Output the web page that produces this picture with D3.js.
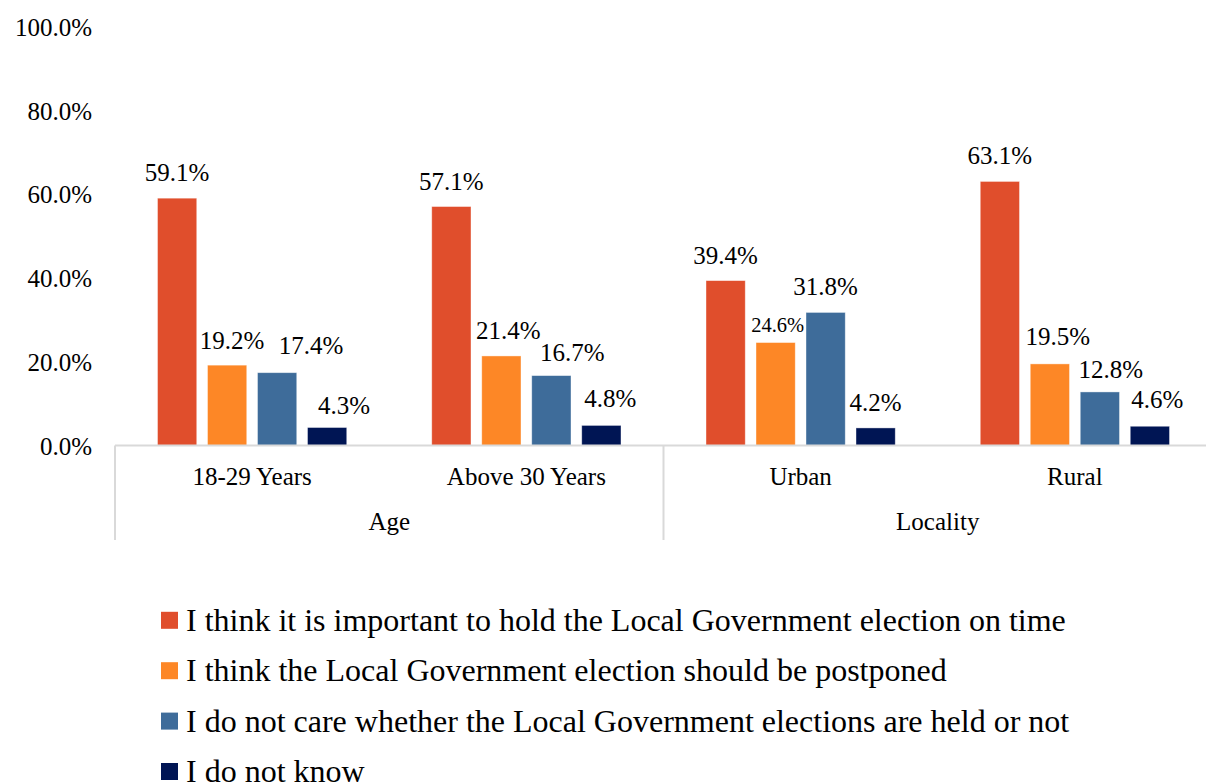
<!DOCTYPE html>
<html>
<head>
<meta charset="utf-8">
<script src="https://cdn.jsdelivr.net/npm/d3@7"></script>
<style>
  html, body { margin: 0; padding: 0; background: #ffffff; }
  svg { display: block; }
</style>
</head>
<body>
<svg id="chart" width="1206" height="782"></svg>
<script>
// Survey responses by demographic group (percent)
const groups = ["Age", "Locality"];
const categories = ["18-29 Years", "Above 30 Years", "Urban", "Rural"];
const categoryGroup = ["Age", "Age", "Locality", "Locality"];
const seriesNames = [
  "I think it is important to hold the Local Government election on time",
  "I think the Local Government election should be postponed",
  "I do not care whether the Local Government elections are held or not",
  "I do not know"
];
const seriesColors = ["#E04E2C", "#FD8726", "#3E6C9A", "#001554"];
const holdOnTime = [59.1, 57.1, 39.4, 63.1];
const postpone = [19.2, 21.4, 24.6, 19.5];
const dontCare = [17.4, 16.7, 31.8, 12.8];
const dontKnow = [4.3, 4.8, 4.2, 4.6];
const seriesValues = [holdOnTime, postpone, dontCare, dontKnow];
const yTicks = [0, 20, 40, 60, 80, 100];

// Hand-placed label nudges [dx, dy] per series (rows) and category (columns),
// keeping neighbouring value labels from colliding.
const labelNudge = [
  [[0, 0], [0, 0], [0, 0], [0, 0]],
  [[5, 1], [7, 0], [2, 6], [8, -2]],
  [[34, -2], [21, 2], [0, 0], [11, 3.5]],
  [[17, 3.5], [9, -1], [0, 0], [7.5, -1]]
];

const FONT = "Liberation Serif";

const svg = d3.select("#chart");

const plot = { left: 115, right: 1212, top: 27, bottom: 445.5 };

const y = d3.scaleLinear().domain([0, 100]).range([plot.bottom, plot.top]);
const x0 = d3.scaleBand().domain(categories).range([plot.left, plot.right]).padding(0);
const x1 = d3.scaleBand().domain(d3.range(seriesNames.length))
  .range([0, x0.bandwidth()]).paddingInner(0.215).paddingOuter(0.85);

// Y axis labels (no axis line, no ticks)
const yAxis = d3.axisLeft(y).tickValues(yTicks).tickSize(0).tickPadding(0)
  .tickFormat(d => d.toFixed(1) + "%");
const yG = svg.append("g").attr("transform", "translate(92,0)").call(yAxis);
yG.attr("font-family", null).attr("font-size", null);
yG.select(".domain").remove();
yG.selectAll("text")
  .attr("font-family", FONT)
  .attr("font-size", 25)
  .attr("fill", "#000")
  .attr("dy", "0.34em");

// Bars with value labels
const catG = svg.append("g").selectAll("g")
  .data(categories)
  .join("g")
  .attr("transform", d => `translate(${x0(d)},0)`);

catG.each(function(cat, ci) {
  const g = d3.select(this);
  seriesValues.forEach((vals, si) => {
    const v = vals[ci];
    g.append("rect")
      .attr("x", x1(si))
      .attr("y", y(v))
      .attr("width", x1.bandwidth())
      .attr("height", y(0) - y(v))
      .attr("fill", seriesColors[si])
      .attr("stroke", "#ffffff")
      .attr("stroke-opacity", 0.5)
      .attr("stroke-width", 0.8);
    const small = (ci === 2 && si === 1);
    const [dx, dy] = labelNudge[si][ci];
    g.append("text")
      .attr("x", x1(si) + x1.bandwidth() / 2 + dx)
      .attr("y", y(v) - 17 + dy)
      .attr("text-anchor", "middle")
      .attr("font-family", FONT)
      .attr("font-size", small ? 20.5 : 25)
      .attr("fill", "#000")
      .text(v.toFixed(1) + "%");
  });
});

// Category axis: baseline and group dividers
const axisColor = "#d9d9d9";
svg.append("line")
  .attr("x1", plot.left).attr("x2", plot.right)
  .attr("y1", plot.bottom).attr("y2", plot.bottom)
  .attr("stroke", axisColor).attr("stroke-width", 2);

const dividers = [plot.left, x0(categories[2]), plot.right];
svg.append("g").selectAll("line")
  .data(dividers)
  .join("line")
  .attr("x1", d => d).attr("x2", d => d)
  .attr("y1", plot.bottom).attr("y2", 540)
  .attr("stroke", axisColor).attr("stroke-width", 2);

// Category labels
svg.append("g").selectAll("text")
  .data(categories)
  .join("text")
  .attr("x", d => x0(d) + x0.bandwidth() / 2)
  .attr("y", 485)
  .attr("text-anchor", "middle")
  .attr("font-family", FONT)
  .attr("font-size", 25)
  .attr("fill", "#000")
  .text(d => d);

// Group labels
svg.append("g").selectAll("text")
  .data(groups)
  .join("text")
  .attr("x", gname => {
    const cats = categories.filter((c, i) => categoryGroup[i] === gname);
    return (x0(cats[0]) + x0(cats[cats.length - 1]) + x0.bandwidth()) / 2;
  })
  .attr("y", 530)
  .attr("text-anchor", "middle")
  .attr("font-family", FONT)
  .attr("font-size", 25)
  .attr("fill", "#000")
  .text(d => d);

// Legend
const legend = svg.append("g").selectAll("g")
  .data(seriesNames)
  .join("g")
  .attr("transform", (d, i) => `translate(161,${620.3 + i * 50.4})`);
legend.append("rect")
  .attr("x", 0).attr("y", -8.5)
  .attr("width", 17).attr("height", 17)
  .attr("fill", (d, i) => seriesColors[i]);
legend.append("text")
  .attr("x", 25).attr("y", 0)
  .attr("dy", "0.33em")
  .attr("font-family", FONT)
  .attr("font-size", 32)
  .attr("fill", "#000")
  .text(d => d);
</script>
</body>
</html>
